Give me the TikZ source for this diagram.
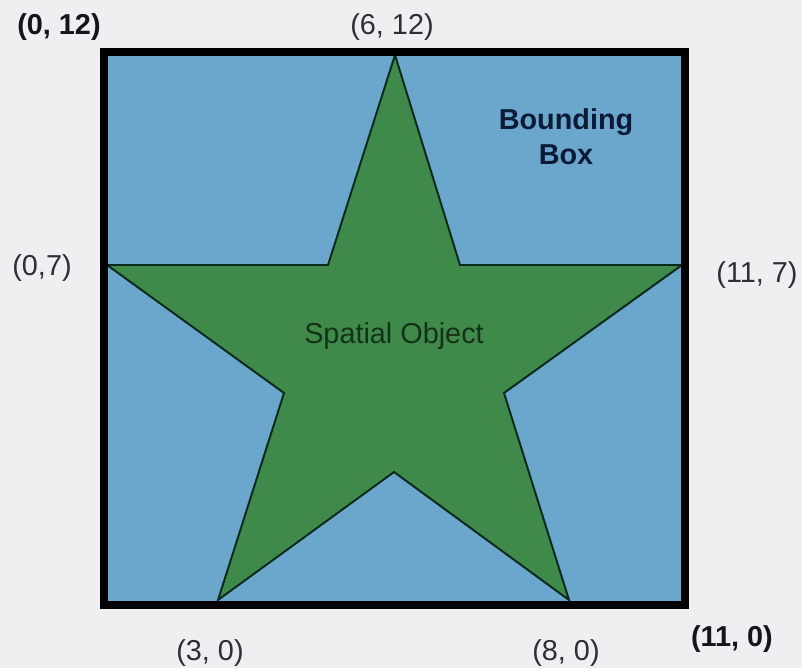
\documentclass[tikz,border=0pt]{standalone}
\usepackage{fontspec}
\setmainfont{Liberation Sans}
\definecolor{bg}{HTML}{EFEEF1}
\definecolor{boxblue}{HTML}{6BA6CD}
\definecolor{stargreen}{HTML}{3F8A4B}
\definecolor{starline}{HTML}{0C2A1C}
\definecolor{lbl}{HTML}{2E2E33}
\definecolor{lblbold}{HTML}{15151F}
\definecolor{navy}{HTML}{0B1B36}
\definecolor{darkgreen}{HTML}{143218}
\tikzset{
  coordlabel/.style={font=\fontsize{20.5}{24}\selectfont, text=lbl, inner sep=0pt},
  cornerlabel/.style={font=\fontsize{20.5}{24}\selectfont\bfseries, text=lblbold, inner sep=0pt},
  boxlabel/.style={font=\fontsize{20.5}{25}\selectfont\bfseries, text=navy, align=center, inner sep=0pt},
  objlabel/.style={font=\fontsize{20.5}{24}\selectfont, text=darkgreen, inner sep=0pt},
  starshape/.style={fill=stargreen, draw=starline, line width=1.4pt, line join=miter},
  bbox/.style={draw=black, line width=5.8pt, line join=miter}
}
\begin{document}
\begin{tikzpicture}[x=0.025cm, y=-0.025cm]
\useasboundingbox (0,0) rectangle (802,668);
\fill[bg] (0,0) rectangle (802,668);
% bounding box corners
\coordinate (bl) at (104,605);
\coordinate (tr) at (685,52);
\fill[boxblue] (bl) rectangle (tr);
% star vertices
\coordinate (top) at (395,55);
\coordinate (iul) at (328,265);
\coordinate (lft) at (107,265);
\coordinate (ill) at (284,393);
\coordinate (bl3) at (218,600);
\coordinate (ibt) at (394,472);
\coordinate (br8) at (569,600);
\coordinate (ilr) at (504,393);
\coordinate (rgt) at (682,265);
\coordinate (iur) at (460,265);
\path[starshape] (top) -- (iur) -- (rgt) -- (ilr) -- (br8) -- (ibt) -- (bl3) -- (ill) -- (lft) -- (iul) -- cycle;
\draw[bbox] (bl) rectangle (tr);
% labels
\node[cornerlabel] (l012) at (59,27) {(0, 12)};
\node[coordlabel] (l612) at (392,27) {(6, 12)};
\node[coordlabel] (l07) at (42,268) {(0,7)};
\node[coordlabel] (l117) at (757,275) {(11, 7)};
\node[coordlabel] (l30) at (210,653) {(3, 0)};
\node[coordlabel] (l80) at (566,653) {(8, 0)};
\node[cornerlabel] (l110) at (732,639) {(11, 0)};
\node[boxlabel] (bb) at (566,137) {Bounding\\Box};
\node[objlabel] (so) at (394,336) {Spatial Object};
\end{tikzpicture}
\end{document}
